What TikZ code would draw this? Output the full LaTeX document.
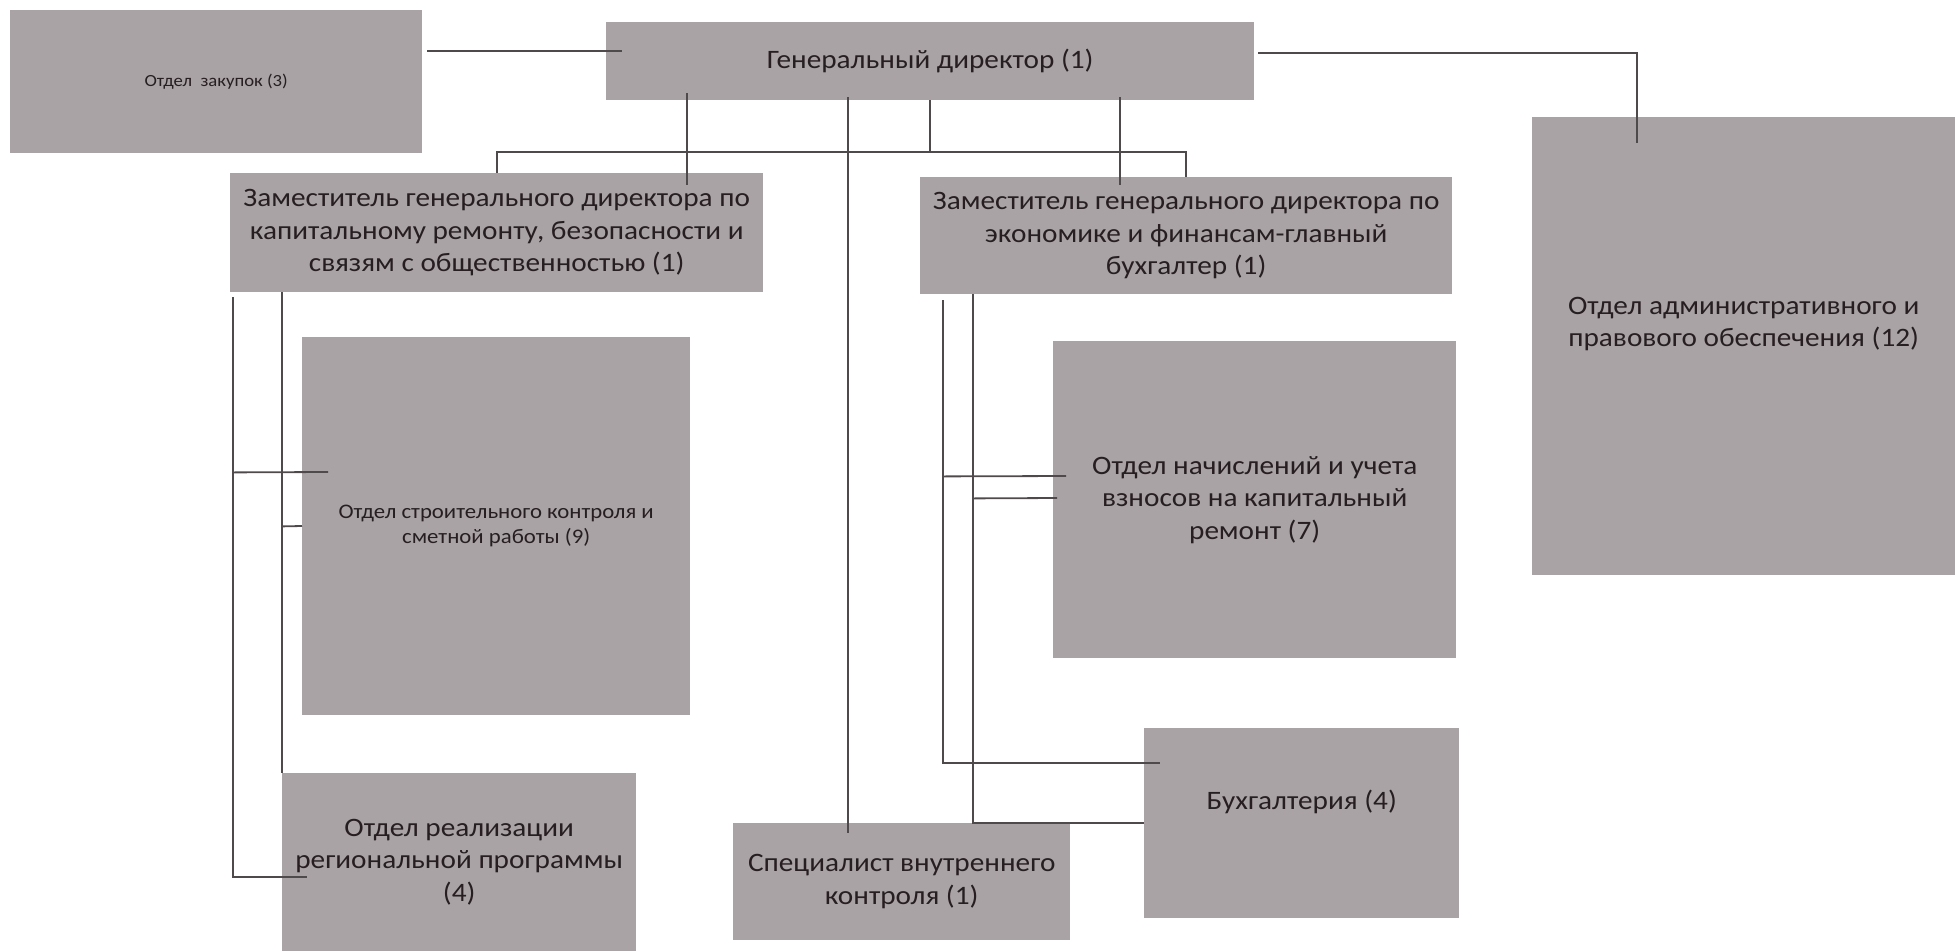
\documentclass[tikz,border=0pt]{standalone}
\usepackage{fontspec}
\setmainfont{Carlito}[FakeStretch=1.1]
\usetikzlibrary{calc}
\definecolor{boxgray}{RGB}{170,163,166}
\definecolor{inkdark}{RGB}{38,30,32}
\definecolor{linegray}{RGB}{78,74,76}
\tikzset{
  % Box styles for the chart: big, small and tiny text
  box text/.style={align=center,text=inkdark,font=\fontsize{26.6}{32.5}\selectfont},
  unit node/.style={rectangle,fill=boxgray,inner sep=0,anchor=north west,box text},
  small node/.style={unit node,font=\fontsize{20.7}{25}\selectfont},
  tiny node/.style={unit node,font=\fontsize{17}{21}\selectfont},
  link/.style={draw=linegray,line width=1.8pt}
}

\begin{document}
\begin{tikzpicture}[x=1pt,y=-1pt]
  \useasboundingbox (0,0) rectangle (1955,951);
  % The boxes
  \node(0)[unit node,minimum width=648pt,minimum height=78pt] at (606,22) {Генеральный директор (1)};
  \node(1)[unit node,minimum width=533pt,minimum height=119pt] at (230,173)
    {Заместитель генерального директора по\\капитальному ремонту, безопасности и\\связям с общественностью (1)};
  \node(2)[unit node,minimum width=532pt,minimum height=117pt] at (920,177)
    {Заместитель генерального директора по\\экономике и финансам-главный\\бухгалтер (1)};
  \node(3)[tiny node,minimum width=412pt,minimum height=143pt] at (10,10) {Отдел~~закупок (3)};
  \node(4)[unit node,minimum width=423pt,minimum height=458pt,
    label={[box text,yshift=22pt]center:Отдел административного и\\правового обеспечения (12)}] at (1532,117) {};
  \node(5)[small node,minimum width=388pt,minimum height=378pt] at (302,337)
    {Отдел строительного контроля и\\сметной работы (9)};
  \node(6)[unit node,minimum width=354pt,minimum height=178pt] at (282,773)
    {Отдел реализации\\региональной программы\\(4)};
  \node(7)[unit node,minimum width=403pt,minimum height=317pt] at (1053,341)
    {Отдел начислений и учета\\взносов на капитальный\\ремонт (7)};
  \node(8)[unit node,minimum width=315pt,minimum height=190pt,
    label={[box text,yshift=21pt]center:Бухгалтерия (4)}] at (1144,728) {};
  \node(9)[unit node,minimum width=337pt,minimum height=117pt] at (733,823)
    {Специалист внутреннего\\контроля (1)};
  % links of the director
  \coordinate (bus) at (0,152);
  \draw[link] ($(3.north east)+(5,41)$) -- ($(0.north west)+(16,29)$);
  \draw[link] ($(0.north east)+(4,31)$) -| ($(4.north west)+(105,26)$);
  \draw[link] (0.south) -- (0.south |- bus);
  \draw[link] (1.north) |- (bus -| 2.north) -- (2.north);
  \draw[link] ($(0.south west)+(81,-7)$) -- ($(1.north west)+(457,12)$);
  \draw[link] ($(0.south west)+(514,-3)$) -- ($(2.north west)+(200,8)$);
  \draw[link] ($(0.south west)+(242,-3)$) -- ($(9.north west)+(115,10)$);
  % links of the first deputy
  \draw[link] ($(1.south west)+(3,5)$) |- ($(6.north west)+(25,104)$);
  \draw[link] ($(1.south west)+(3,180)$) -- ($(5.north west)+(26,135)$);
  \draw[link] ($(1.south west)+(52,0)$) -- (6.north west);
  \draw[link] ($(1.south west)+(52,234)$) -- ($(5.north west)+(0,189)$);
  % links of the second deputy
  \draw[link] ($(2.south west)+(23,6)$) |- ($(8.north west)+(16,35)$);
  \draw[link] ($(2.south west)+(23,182)$) -- ($(7.north west)+(13,135)$);
  \draw[link] ($(2.south west)+(53,0)$) |- ($(8.north west)+(0,95)$);
  \draw[link] ($(2.south west)+(53,204)$) -- ($(7.north west)+(4,157)$);
\end{tikzpicture}
\end{document}
